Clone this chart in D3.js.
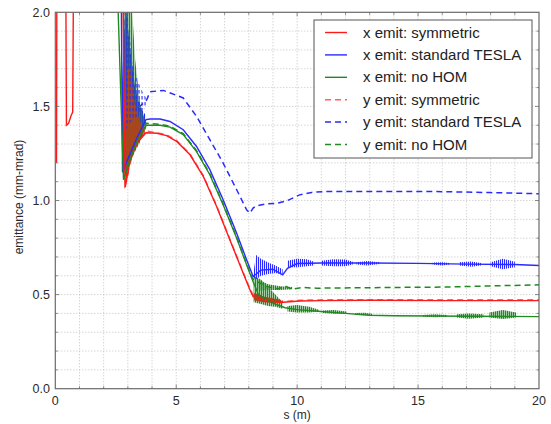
<!DOCTYPE html>
<html>
<head>
<meta charset="utf-8">
<script src="https://cdn.jsdelivr.net/npm/d3@7"></script>
<style>
  body { margin: 0; background: #fff; }
  svg { font-family: "Liberation Sans", Arial, sans-serif; }
</style>
</head>
<body>
<svg width="551" height="424"></svg>
<script>
// ---- data: [s (m), emittance (mm-mrad)] ----
const xSymmetric = [[0.05,1.2],[0.07,2.6],[0.42,2.6],[0.46,1.40],[0.55,1.41],[0.65,1.45],[0.72,1.47],[0.77,2.6],
  [2.75,2.6],[2.89,1.07],[3.1,1.22],[3.4,1.31],[3.75,1.36],[4.2,1.357],[4.6,1.345],[5.02,1.314],[5.57,1.243],
  [6.12,1.128],[6.67,0.968],[7.22,0.79],[7.77,0.614],[8.05,0.525],[8.18,0.489],[8.6,0.472],[9.3,0.458],
  [10.1,0.466],[11,0.468],[13,0.47],[16,0.468],[20,0.468]];
const xTesla = [[2.7,2.6],[2.78,1.15],[3.0,1.22],[3.4,1.34],[3.75,1.43],[3.92,1.433],[4.33,1.433],[4.74,1.42],
  [5.29,1.376],[5.84,1.287],[6.39,1.164],[6.94,1.004],[7.5,0.826],[7.91,0.685],[8.18,0.596],[8.5,0.63],
  [9,0.635],[9.4,0.605],[9.6,0.64],[10,0.665],[11,0.668],[13,0.668],[15,0.666],[17,0.662],[19,0.66],[20,0.655]];
const xNoHom = [[2.55,2.6],[2.6,2.0],[2.82,1.11],[3.1,1.22],[3.4,1.32],[3.75,1.40],[3.92,1.40],[4.33,1.40],
  [4.74,1.39],[5.29,1.35],[5.84,1.26],[6.39,1.137],[6.94,0.977],[7.5,0.80],[7.91,0.658],[8.15,0.578],
  [8.4,0.50],[9.0,0.455],[9.5,0.43],[10,0.42],[11,0.41],[12,0.40],[13,0.39],[14,0.388],[20,0.383]];
const ySymmetric = [[2.8,2.6],[2.9,1.1],[3.3,1.3],[3.75,1.37],[4.2,1.36],[4.6,1.35],[5.02,1.318],[5.57,1.247],
  [6.12,1.132],[6.67,0.972],[7.22,0.794],[7.77,0.618],[8.05,0.53],[8.2,0.493],[8.6,0.476],[9.3,0.462],
  [10.1,0.47],[11,0.472],[14,0.473],[20,0.472]];
const yTesla = [[2.95,2.6],[3.0,1.45],[3.5,1.5],[3.78,1.535],[3.92,1.578],[4.47,1.585],[5.29,1.545],
  [5.84,1.447],[6.39,1.323],[6.94,1.199],[7.5,1.057],[7.91,0.951],[8.05,0.933],[8.18,0.96],[8.32,0.972],
  [8.74,0.982],[9.15,0.984],[9.6,1.0],[10.1,1.03],[10.6,1.043],[11.2,1.048],[15.6,1.048],[18,1.042],[20,1.036]];
const yNoHom = [[2.9,1.15],[3.4,1.33],[3.75,1.41],[4.33,1.405],[4.74,1.395],[5.29,1.355],[5.84,1.265],
  [6.39,1.142],[6.94,0.982],[7.5,0.805],[7.91,0.663],[8.15,0.585],[8.4,0.565],[8.74,0.543],[9.2,0.53],
  [9.5,0.545],[9.8,0.528],[10.2,0.538],[10.8,0.534],[14,0.538],[16,0.54],[18,0.546],[20,0.552]];

// oscillation envelopes [s, low, high], drawn as hatched bands
const redBands = [
  [[2.86,1.06,1.3],[3.0,1.12,1.7],[3.1,1.2,1.7],[3.3,1.27,1.5],[3.5,1.32,1.42],[3.7,1.35,1.38]],
  [[8.2,0.47,0.51],[8.6,0.46,0.49],[9.0,0.455,0.48],[9.4,0.458,0.47]]
];
const blueBands = [
  [[2.75,1.15,1.6],[2.9,1.17,2.05],[3.1,1.22,1.8],[3.3,1.3,1.6],[3.5,1.36,1.5],[3.75,1.42,1.45]],
  [[8.2,0.59,0.62],[8.3,0.58,0.71],[8.5,0.6,0.69],[8.8,0.61,0.67],[9.1,0.615,0.655],[9.4,0.605,0.635]],
  [[9.6,0.645,0.68],[10.0,0.645,0.69],[10.4,0.65,0.688],[10.7,0.655,0.675]],
  [[11.0,0.655,0.68],[11.5,0.65,0.688],[12.0,0.65,0.686],[12.3,0.66,0.675]],
  [[12.45,0.66,0.672],[12.9,0.655,0.678],[13.4,0.662,0.672]],
  [[15.6,0.66,0.67],[16.0,0.655,0.672],[16.3,0.66,0.668]],
  [[16.7,0.655,0.672],[17.2,0.648,0.676],[17.6,0.655,0.668]],
  [[18.0,0.65,0.672],[18.5,0.635,0.69],[19.0,0.645,0.675]]
];
const greenBands = [
  [[2.8,1.11,2.05],[3.0,1.16,2.05],[3.16,1.22,2.05],[3.3,1.26,1.75],[3.5,1.31,1.52],[3.65,1.36,1.45],[3.78,1.39,1.41]],
  [[8.2,0.46,0.6],[8.5,0.45,0.58],[8.8,0.44,0.54],[9.1,0.435,0.5],[9.4,0.425,0.46]],
  [[8.4,0.52,0.58],[8.8,0.525,0.555],[9.3,0.525,0.545],[9.8,0.528,0.54]],
  [[9.6,0.41,0.44],[10.0,0.405,0.445],[10.5,0.405,0.435],[10.9,0.41,0.42]],
  [[11.06,0.402,0.415],[11.5,0.398,0.418],[12.05,0.397,0.41]],
  [[12.4,0.392,0.402],[12.8,0.39,0.404],[13.1,0.39,0.398]],
  [[15.2,0.383,0.392],[15.7,0.38,0.396],[16.2,0.382,0.392]],
  [[16.6,0.378,0.395],[17.1,0.372,0.4],[17.7,0.378,0.395]],
  [[17.95,0.378,0.405],[18.5,0.37,0.418],[19.05,0.378,0.405]]
];
const blueDashBands = [
  [[2.85,1.35,1.7],[3.0,1.4,2.05],[3.15,1.42,1.75],[3.4,1.45,1.64],[3.6,1.48,1.58],[3.78,1.5,1.54]]
];

const seriesNames = ["x emit: symmetric", "x emit: standard TESLA", "x emit: no HOM",
                     "y emit: symmetric", "y emit: standard TESLA", "y emit: no HOM"];
const seriesData = [xSymmetric, xTesla, xNoHom, ySymmetric, yTesla, yNoHom];
const xTicks = [0, 5, 10, 15, 20];
const yTicks = [0.0, 0.5, 1.0, 1.5, 2.0];

const RED = "#ff1a1a", BLUE = "#2a2aff", GREEN = "#1f8a1f";
const seriesColor = [RED, BLUE, GREEN, "#ff6060", BLUE, GREEN];
const seriesDash = [null, null, null, "6,4", "6,4", "6,4"];

const svg = d3.select("svg");
const pLeft = 55.3, pRight = 539, pTop = 12.3, pBottom = 388.7;

const x = d3.scaleLinear().domain([0, 20]).range([pLeft, pRight]);
const y = d3.scaleLinear().domain([0, 2]).range([pBottom, pTop]);

const defs = svg.append("defs");
defs.append("clipPath").attr("id", "plotclip")
  .append("rect").attr("x", pLeft).attr("y", pTop)
  .attr("width", pRight - pLeft).attr("height", pBottom - pTop);

// vertical hatching for the fast oscillations; offsets keep colours interleaved
// [name, colour, x offset, stroke width, period x, period y, dash length]
[["red", RED, 0, 1.1, 2, 4, 4], ["blue", BLUE, 0, 1.1, 2, 4, 4], ["green", GREEN, 0.6, 1.4, 2, 4, 4],
 ["bluedash", BLUE, 0.5, 1.1, 3, 6, 3.5]].forEach(([n, c, off, sw, w, h, dh]) => {
  const p = defs.append("pattern").attr("id", "hatch-" + n)
    .attr("patternUnits", "userSpaceOnUse").attr("width", w).attr("height", h);
  p.append("rect").attr("x", off).attr("y", 0).attr("width", sw).attr("height", dh).attr("fill", c);
});

// grid
const grid = svg.append("g").attr("stroke", "#b4b4b4").attr("stroke-width", 0.8)
  .attr("stroke-dasharray", "1,2");
grid.selectAll("line.gx").data(d3.range(1, 20)).enter().append("line")
  .attr("x1", d => x(d)).attr("x2", d => x(d)).attr("y1", pTop).attr("y2", pBottom);
grid.selectAll("line.gy").data(d3.range(1, 20).map(d => d / 10)).enter().append("line")
  .attr("y1", d => y(d)).attr("y2", d => y(d)).attr("x1", pLeft).attr("x2", pRight);

const plot = svg.append("g").attr("clip-path", "url(#plotclip)");

const area = d3.area().x(d => x(d[0])).y0(d => y(d[1])).y1(d => y(d[2]));
const line = d3.line().x(d => x(d[0])).y(d => y(d[1]));

function drawBands(bands, pat) {
  plot.append("g").selectAll("path").data(bands).enter().append("path")
    .attr("d", area).attr("fill", "url(#hatch-" + pat + ")");
}

// dashed lines underneath, solid on top
[4, 3, 5].forEach(i => {
  plot.append("path").datum(seriesData[i]).attr("d", line)
    .attr("fill", "none").attr("stroke", seriesColor[i]).attr("stroke-width", 1.5)
    .attr("stroke-dasharray", seriesDash[i]);
});
drawBands(blueBands, "blue");
drawBands(redBands, "red");
drawBands(greenBands, "green");
drawBands(blueDashBands, "bluedash");
[1, 0, 2].forEach(i => {
  plot.append("path").datum(seriesData[i]).attr("d", line)
    .attr("fill", "none").attr("stroke", seriesColor[i]).attr("stroke-width", 1.4);
});

// frame
svg.append("rect").attr("x", pLeft).attr("y", pTop).attr("width", pRight - pLeft).attr("height", pBottom - pTop)
  .attr("fill", "none").attr("stroke", "#6a6a6a").attr("stroke-width", 1.2);

// ticks on all sides
const tk = svg.append("g").attr("stroke", "#6a6a6a").attr("stroke-width", 0.8);
d3.range(1, 20).forEach(d => {
  const len = d % 5 === 0 ? 4 : 2.5;
  tk.append("line").attr("x1", x(d)).attr("x2", x(d)).attr("y1", pBottom).attr("y2", pBottom - len);
  tk.append("line").attr("x1", x(d)).attr("x2", x(d)).attr("y1", pTop).attr("y2", pTop + len);
});
d3.range(1, 20).forEach(i => {
  const d = i / 10, len = i % 5 === 0 ? 4 : 2.5;
  tk.append("line").attr("y1", y(d)).attr("y2", y(d)).attr("x1", pLeft).attr("x2", pLeft + len);
  tk.append("line").attr("y1", y(d)).attr("y2", y(d)).attr("x1", pRight).attr("x2", pRight - len);
});

// axis labels
svg.append("g").selectAll("text").data(xTicks).enter().append("text")
  .attr("x", d => x(d)).attr("y", 405).attr("text-anchor", "middle")
  .attr("font-size", 12.5).attr("fill", "#2a2a2a").text(d => d);
svg.append("g").selectAll("text").data(yTicks).enter().append("text")
  .attr("x", 50).attr("y", d => y(d) + 4.5).attr("text-anchor", "end")
  .attr("font-size", 12.5).attr("fill", "#2a2a2a").text(d => d.toFixed(1));
svg.append("text").attr("x", (pLeft + pRight) / 2).attr("y", 419).attr("text-anchor", "middle")
  .attr("font-size", 12).attr("fill", "#2a2a2a").text("s (m)");
svg.append("text").attr("transform", "translate(23,197) rotate(-90)").attr("text-anchor", "middle")
  .attr("font-size", 12).attr("fill", "#2a2a2a").text("emittance (mm-mrad)");

// legend
const lg = svg.append("g");
lg.append("rect").attr("x", 314).attr("y", 20).attr("width", 218).attr("height", 138)
  .attr("fill", "#fff").attr("stroke", "#555").attr("stroke-width", 1);
seriesNames.forEach((name, i) => {
  const yy = 32.5 + i * 22.4;
  lg.append("line").attr("x1", 325).attr("x2", 347).attr("y1", yy).attr("y2", yy)
    .attr("stroke", seriesColor[i]).attr("stroke-width", i < 3 ? 1.4 : 1.5)
    .attr("stroke-dasharray", seriesDash[i]);
  lg.append("text").attr("x", 363).attr("y", yy + 5).attr("font-size", 15)
    .attr("fill", "#222").text(name);
});
</script>
</body>
</html>
